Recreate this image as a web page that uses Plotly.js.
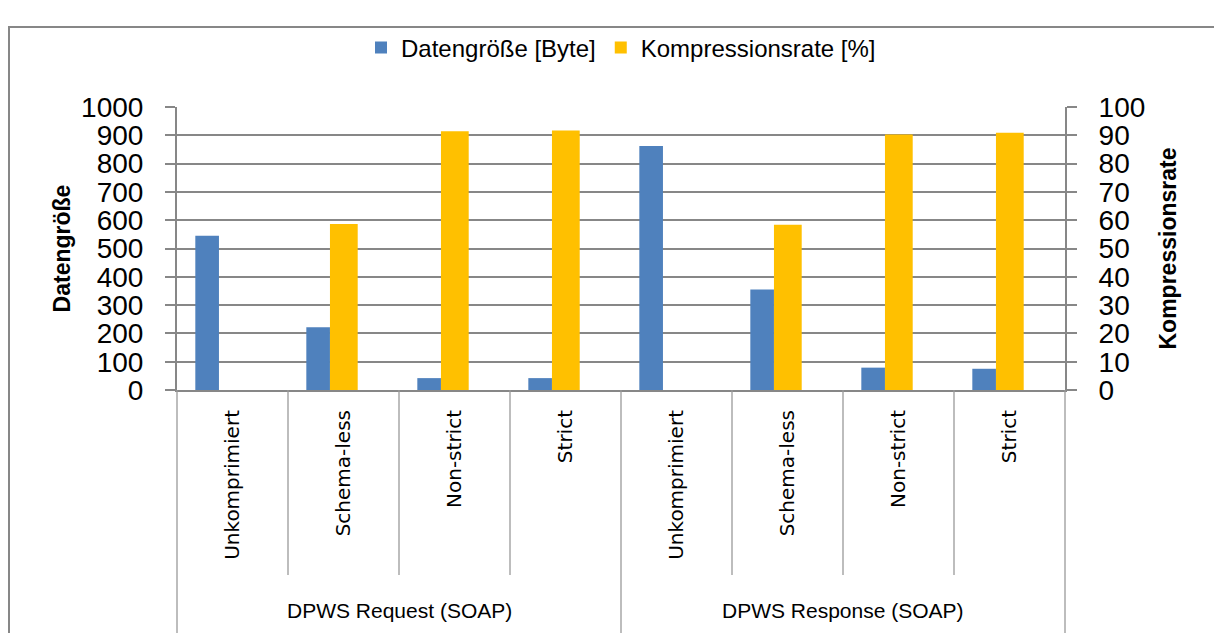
<!DOCTYPE html>
<html>
<head>
<meta charset="utf-8">
<script src="https://cdn.plot.ly/plotly-3.0.1.min.js"></script>
<style>html,body{margin:0;padding:0;background:#fff;}#chart{width:1214px;height:633px;}</style>
</head>
<body>
<div id="chart"></div>
<script>
// ---- data ----
const groups = ['DPWS Request (SOAP)', 'DPWS Response (SOAP)'];
const methods = ['Unkomprimiert', 'Schema-less', 'Non-strict', 'Strict'];
const sizeRequest = [545, 222, 42, 42];
const sizeResponse = [862, 355, 79, 75];
const rateRequest = [0, 58.7, 91.4, 91.7];
const rateResponse = [0, 58.4, 90.3, 90.9];
const seriesNames = ['Datengröße [Byte]', 'Kompressionsrate [%]'];

// ---- build ----
const labels = [];
groups.forEach(() => methods.forEach(m => labels.push(m)));
const xs = labels.map((_, i) => i);
const sizes = sizeRequest.concat(sizeResponse);
const rates = rateRequest.concat(rateResponse);

const blue = '#4F81BD', yellow = '#FFC000', grey = '#878787';
const nCat = labels.length;

const traces = [
  {type: 'bar', name: seriesNames[0], x: xs, y: sizes, yaxis: 'y',
   marker: {color: blue, line: {width: 0}}, offset: -0.335, width: 0.213, hoverinfo: 'y'},
  {type: 'bar', name: seriesNames[1], x: xs, y: rates, yaxis: 'y2',
   marker: {color: yellow, line: {width: 0}}, offset: -0.122, width: 0.25, hoverinfo: 'y'}
];

const pxToPaperY = py => (390 - py) / 283;
const pxToPaperX = px => (px - 177) / 888;

const shapes = [];
// outer chart frame
shapes.push({type: 'rect', xref: 'paper', yref: 'paper',
  x0: pxToPaperX(9), x1: pxToPaperX(1240), y0: pxToPaperY(680), y1: pxToPaperY(27),
  line: {color: grey, width: 2}, fillcolor: 'rgba(0,0,0,0)', layer: 'below'});
// category separators
for (let i = 0; i <= nCat; i++) {
  const isGroup = (i % methods.length) === 0;
  shapes.push({type: 'line', xref: 'paper', yref: 'paper',
    x0: i / nCat, x1: i / nCat, y0: 0, y1: pxToPaperY(isGroup ? 640 : 575),
    line: {color: '#9a9a9a', width: 1.3}});
}

const annotations = groups.map((g, gi) => ({
  text: g, xref: 'x', yref: 'paper',
  x: gi * methods.length + (methods.length - 1) / 2, y: pxToPaperY(610),
  showarrow: false, xanchor: 'center', yanchor: 'middle',
  font: {family: 'Liberation Sans, Arial, sans-serif', size: 21, color: '#000'}
}));

const layout = {
  width: 1214, height: 633,
  paper_bgcolor: '#fff', plot_bgcolor: '#fff',
  margin: {l: 177, r: 149, t: 107, b: 243},
  font: {family: 'Liberation Sans, Arial, sans-serif', color: '#000'},
  barmode: 'overlay',
  showlegend: true,
  legend: {orientation: 'h', x: 0.5, xanchor: 'center', y: pxToPaperY(48), yanchor: 'middle',
    font: {size: 24, color: '#000'}, bgcolor: 'rgba(0,0,0,0)', traceorder: 'normal'},
  xaxis: {
    range: [-0.5, nCat - 0.5], tickmode: 'array', tickvals: xs, ticktext: labels,
    tickangle: -90, ticks: '', showgrid: false, zeroline: false,
    showline: true, linecolor: grey, linewidth: 2,
    tickfont: {family: 'DejaVu Sans, sans-serif', size: 20, color: '#000'},
    ticklabelstandoff: 10, fixedrange: true
  },
  yaxis: {
    range: [0, 1000], dtick: 100, tick0: 0, ticks: 'outside', ticklen: 10, tickwidth: 2,
    tickcolor: grey, showline: true, linecolor: grey, linewidth: 2,
    showgrid: true, gridcolor: grey, gridwidth: 2, zeroline: false,
    tickfont: {size: 28, color: '#000'}, ticklabelstandoff: 16,
    title: {text: 'Datengröße', font: {size: 23, color: '#000', weight: 'bold'}, standoff: 4}
  },
  yaxis2: {
    overlaying: 'y', side: 'right',
    range: [0, 100], dtick: 10, tick0: 0, ticks: 'outside', ticklen: 10, tickwidth: 2,
    tickcolor: grey, showline: true, linecolor: grey, linewidth: 2,
    showgrid: false, zeroline: false,
    tickfont: {size: 28, color: '#000'}, ticklabelstandoff: 16,
    title: {text: 'Kompressionsrate', font: {size: 23, color: '#000', weight: 'bold'}, standoff: 16}
  },
  shapes: shapes,
  annotations: annotations
};

Plotly.newPlot('chart', traces, layout, {displayModeBar: false, staticPlot: true});
</script>
</body>
</html>
